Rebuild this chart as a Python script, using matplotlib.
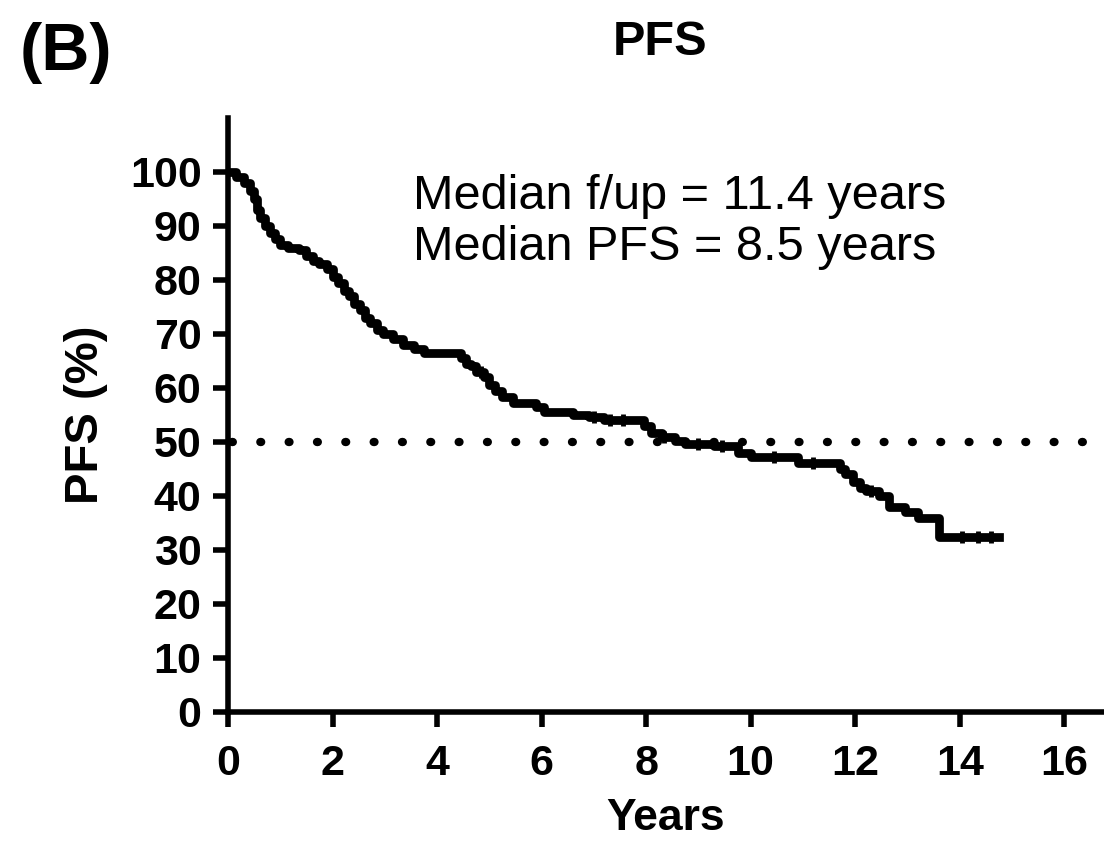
import matplotlib
matplotlib.use("Agg")
import matplotlib.pyplot as plt
import numpy as np

plt.rcParams['font.family'] = ['Liberation Sans', 'DejaVu Sans']

# Kaplan-Meier steps: time (years) and PFS (%) after each event
km_time = [0, 0.15, 0.3, 0.42, 0.5, 0.56, 0.62, 0.7, 0.8, 0.9, 1.0, 1.15, 1.35,
           1.5, 1.62, 1.75, 1.9, 2.0, 2.1, 2.22, 2.32, 2.42, 2.52, 2.62, 2.72,
           2.85, 2.97, 3.15, 3.35, 3.55, 3.75, 4.45, 4.55, 4.65, 4.75, 4.9,
           5.0, 5.1, 5.25, 5.45, 5.9, 6.05, 6.6, 6.9, 7.2, 7.95, 8.1, 8.3,
           8.55, 8.75, 9.3, 9.75, 10.0, 10.9, 11.7, 11.8, 11.95, 12.1, 12.2,
           12.45, 12.65, 12.95, 13.2, 13.6, 14.75]
km_pfs = [100, 99, 98, 96.5, 95, 93, 91.5, 90, 88.7, 87.5, 86.5, 86, 85.5,
          84.5, 83.5, 83, 82, 80.5, 79.5, 78, 77, 75.5, 74.5, 73, 72,
          70.8, 70, 69, 68, 67.3, 66.5, 65.5, 64.5, 64, 63, 62,
          60.5, 59.5, 58.3, 57.2, 56.5, 55.6, 55, 54.6, 54, 53, 51.7, 51,
          50.2, 49.6, 49.2, 48, 47.2, 46.1, 45, 44, 42.5, 41.5, 41,
          40, 38, 37, 36, 32.4, 32.4]

# censored observations
cens_time = [4.85, 7.0, 7.3, 7.55, 8.35, 9.0, 9.45, 10.45, 11.2, 12.3, 14.05, 14.35, 14.6]

median_line = 50
x_ticks = [0, 2, 4, 6, 8, 10, 12, 14, 16]
y_ticks = [0, 10, 20, 30, 40, 50, 60, 70, 80, 90, 100]

fig = plt.figure(figsize=(11.04, 8.48), dpi=100)
ax = fig.add_axes([0.2065, 0.1604, 0.7935, 0.7005])

ax.step(km_time, km_pfs, where='post', color='black', lw=6.3, solid_joinstyle='round')
cens_pfs = [km_pfs[np.searchsorted(km_time, t, side='right') - 1] for t in cens_time]
ax.plot(cens_time, cens_pfs, ls='none', marker='|', ms=8, mew=3.5, color='black')

# dotted reference line at the median
ax.axhline(median_line, xmin=0.005, color='black', lw=6, dashes=(0.1, 3.3),
           dash_capstyle='round')

ax.set_xlim(0, 16.76)
ax.set_ylim(0, 110)
ax.set_xticks(x_ticks)
ax.set_yticks(y_ticks)
for side in ['top', 'right']:
    ax.spines[side].set_visible(False)
for side in ['left', 'bottom']:
    ax.spines[side].set_linewidth(4)
ax.tick_params(axis='both', direction='out', length=11, width=4, labelsize=31)
ax.tick_params(axis='x', pad=12)
ax.tick_params(axis='y', pad=8)
for lbl in ax.get_xticklabels() + ax.get_yticklabels():
    lbl.set_fontweight('bold')

ax.set_xlabel('Years', fontsize=32, fontweight='bold', labelpad=10)
ax.set_ylabel('PFS (%)', fontsize=34, fontweight='bold', labelpad=16)

ax.text(0.211, 0.905, 'Median f/up = 11.4 years\nMedian PFS = 8.5 years',
        transform=ax.transAxes, fontsize=35, linespacing=1.15, va='top')

fig.text(0.598, 0.95, 'PFS', fontsize=35, fontweight='bold', ha='center', va='center')
fig.text(0.018, 0.938, '(B)', fontsize=48, fontweight='bold', ha='left', va='center')

fig.savefig('out.png', dpi=100)
